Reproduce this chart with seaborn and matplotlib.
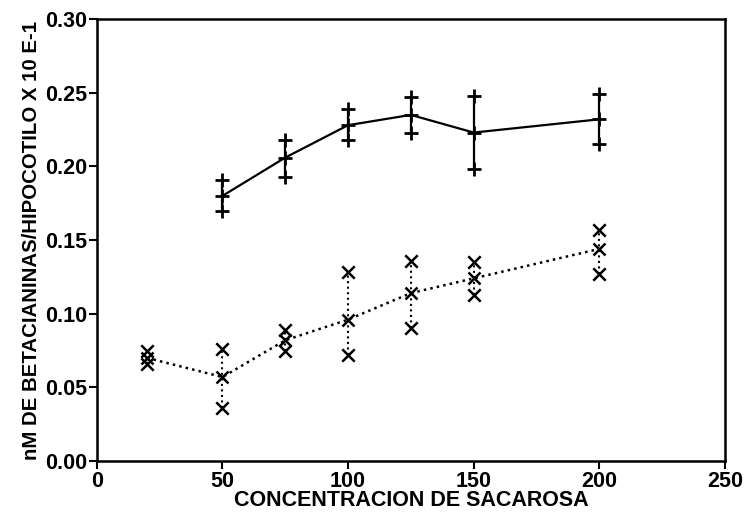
import matplotlib
matplotlib.use("Agg")
import matplotlib.pyplot as plt
import seaborn as sns
import pandas as pd

# Series 1 (solid line, + markers)
x1 = [50, 75, 100, 125, 150, 200]
mean1 = [0.180, 0.206, 0.228, 0.235, 0.223, 0.232]
upper1 = [0.191, 0.218, 0.239, 0.247, 0.248, 0.249]
lower1 = [0.170, 0.193, 0.218, 0.223, 0.198, 0.215]

# Series 2 (dotted line, x markers)
x2 = [20, 50, 75, 100, 125, 150, 200]
mean2 = [0.070, 0.057, 0.082, 0.096, 0.114, 0.124, 0.144]
upper2 = [0.075, 0.076, 0.089, 0.128, 0.136, 0.135, 0.157]
lower2 = [0.066, 0.036, 0.075, 0.072, 0.090, 0.113, 0.127]

xticks = [0, 50, 100, 150, 200, 250]
yticks = [0.00, 0.05, 0.10, 0.15, 0.20, 0.25, 0.30]

sns.set_theme(style="ticks")
plt.rcParams['font.family'] = ['Liberation Sans', 'DejaVu Sans']

fig = plt.figure(figsize=(7.45, 5.12), dpi=100)
ax = fig.add_axes([0.130, 0.0996, 0.843, 0.863])

df1 = pd.DataFrame({"x": x1, "y": mean1})
df2 = pd.DataFrame({"x": x2, "y": mean2})

# error bars
ax.vlines(x1, lower1, upper1, colors="black", linewidth=1.6, linestyles="-")
ax.vlines(x2, lower2, upper2, colors="black", linewidth=1.5, linestyles=":")

sns.lineplot(data=df1, x="x", y="y", ax=ax, color="black", linewidth=1.6,
             marker="+", markersize=10, markeredgewidth=2, markeredgecolor="black")
sns.lineplot(data=df2, x="x", y="y", ax=ax, color="black", linewidth=1.8,
             linestyle=":", marker="x", markersize=9, markeredgewidth=1.8,
             markeredgecolor="black")

ends1 = pd.DataFrame({"x": x1 + x1, "y": upper1 + lower1})
ends2 = pd.DataFrame({"x": x2 + x2, "y": upper2 + lower2})
sns.scatterplot(data=ends1, x="x", y="y", ax=ax, marker="+", s=100,
                color="black", linewidth=2, zorder=5)
sns.scatterplot(data=ends2, x="x", y="y", ax=ax, marker="x", s=80,
                color="black", linewidth=1.8, zorder=5)

ax.set_xlim(0, 250)
ax.set_ylim(0, 0.30)
ax.set_xticks(xticks)
ax.set_xticklabels([str(v) for v in xticks], fontweight="bold")
ax.set_yticks(yticks)
ax.set_yticklabels([f"{v:.2f}" for v in yticks], fontweight="bold")
ax.tick_params(direction="out", length=6, width=1.5, labelsize=15.5,
               colors="black", pad=1)
for s in ax.spines.values():
    s.set_linewidth(1.8)
    s.set_color("black")

ax.set_xlabel("CONCENTRACION DE SACAROSA", fontsize=15.5, fontweight="bold",
              labelpad=-1, color="black")
ax.set_ylabel("nM DE BETACIANINAS/HIPOCOTILO X 10 E-1", fontsize=14.7,
              fontweight="bold", labelpad=3, color="black")

fig.savefig("out.png", dpi=100)
